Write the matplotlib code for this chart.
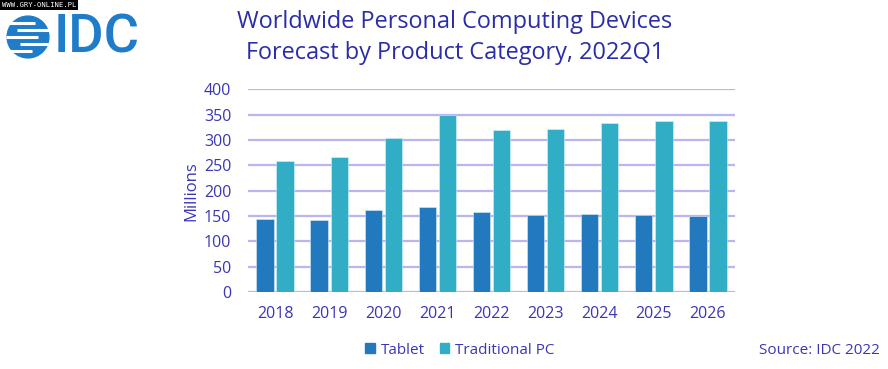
import matplotlib
matplotlib.use("Agg")
import matplotlib.pyplot as plt
import numpy as np
from matplotlib.patches import Circle, Rectangle

years = ["2018", "2019", "2020", "2021", "2022", "2023", "2024", "2025", "2026"]
tablet = [144, 143, 162, 167, 157, 152, 154, 152, 150]
traditional_pc = [258, 266, 303, 349, 320, 321, 334, 337, 337]
y_ticks = [0, 50, 100, 150, 200, 250, 300, 350, 400]

TXT = "#3A36B4"
TITLE = "#2B2DA6"
GRID = "#B9B5EE"
C_TAB = "#2379BE"
C_PC = "#31AEC5"
IDC_BLUE = "#1F7CC9"

plt.rcParams['font.family'] = ['Open Sans', 'DejaVu Sans']

fig = plt.figure(figsize=(8.88, 3.69), dpi=100)
W, H = 888, 369
ax = fig.add_axes([248 / W, 1 - 292 / H, (735 - 248) / W, (292 - 89.3) / H])

x = np.arange(len(years))
bw = 0.32
off = 0.185
ax.bar(x - off, tablet, bw, color=C_TAB, edgecolor="#d8eaf6", linewidth=0.4, zorder=3, label="Tablet")
ax.bar(x + off, traditional_pc, bw, color=C_PC, edgecolor="#d8f0f5", linewidth=0.4, zorder=3, label="Traditional PC")

ax.set_xlim(-0.5, len(years) - 0.5)
ax.set_ylim(0, 400)
ax.set_yticks(y_ticks)
ax.set_yticklabels([str(v) for v in y_ticks])
ax.set_xticks(x)
ax.set_xticklabels(years)
ax.tick_params(axis='both', length=0, colors=TXT, labelsize=11.5)
ax.tick_params(axis='y', pad=12)
ax.tick_params(axis='x', pad=10)
for s in ax.spines.values():
    s.set_visible(False)
ax.grid(axis='y', color=GRID, linewidth=1.6, zorder=0)
ax.set_axisbelow(True)
ax.set_ylabel("Millions", color=TXT, fontsize=12, labelpad=3)

fig.text(455 / W, 1 - 22 / H, "Worldwide Personal Computing Devices", ha='center', va='center',
         color=TITLE, fontsize=16.9)
fig.text(455 / W, 1 - 53 / H, "Forecast by Product Category, 2022Q1", ha='center', va='center',
         color=TITLE, fontsize=16.9)

# legend
leg = fig.legend(handles=[Rectangle((0, 0), 1, 1, color=C_TAB), Rectangle((0, 0), 1, 1, color=C_PC)],
                 labels=["Tablet", "Traditional PC"], loc='center', bbox_to_anchor=(460 / W, 1 - 350 / H),
                 ncol=2, frameon=False, fontsize=11, handlelength=0.6, handleheight=0.6, handletextpad=0.4,
                 columnspacing=1.0)
for t in leg.get_texts():
    t.set_color(TXT)

fig.text(880 / W, 1 - 350 / H, "Source: IDC 2022", ha='right', va='center', color=TXT, fontsize=11)

# watermark
fig.text(2 / W, 1 - 5 / H, "WWW.GRY-ONLINE.PL", ha='left', va='center', color='white', fontsize=5.2,
         family='DejaVu Sans Mono', bbox=dict(facecolor='black', edgecolor='none', pad=1.2))

# IDC logo
fig.text(54 / W, 1 - 38 / H, "IDC", ha='left', va='center', color=IDC_BLUE, fontsize=39,
         family='Roboto', weight='medium')
lax = fig.add_axes([6 / W, 1 - 59 / H, 44 / W, 44 / H])
lax.set_xlim(-1, 1)
lax.set_ylim(-1, 1)
lax.set_aspect('equal')
lax.axis('off')
lax.add_patch(Circle((0, 0), 0.95, color=IDC_BLUE))
for yy, x0, x1 in [(0.62, -1, 0.3), (0.3, -0.5, 1), (0.0, -1, 0.45), (-0.3, -0.35, 1), (-0.62, -1, 0.2)]:
    lax.plot([x0, x1], [yy, yy], color='white', linewidth=2.2, solid_capstyle='butt')

fig.savefig("out.png", dpi=100, facecolor='white')
